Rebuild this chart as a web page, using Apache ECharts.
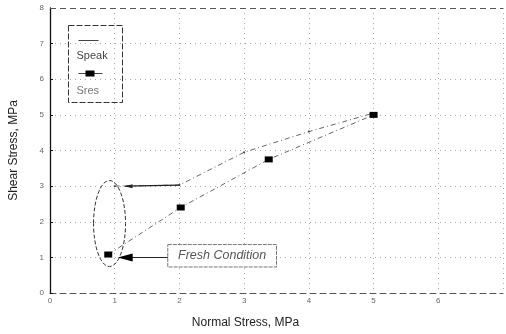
<!DOCTYPE html>
<html>
<head>
<meta charset="utf-8">
<script src="https://cdn.jsdelivr.net/npm/echarts@6/dist/echarts.min.js"></script>
<style>
  html, body { margin: 0; padding: 0; background: #fff; }
  #chart { width: 506px; height: 334px; }
</style>
</head>
<body>
<div id="chart"></div>
<script>
// Peak and residual shear stress against normal stress
const seriesNames = ['Speak', 'Sres'];
const speakNormal = [1, 2, 3, 4, 5];
const speakShear = [3.0, 3.03, 3.95, 4.53, 5.05];
const sresNormal = [0.9, 2.02, 3.38, 5.0];
const sresShear = [1.08, 2.4, 3.75, 5.0];
const xTicks = [0, 1, 2, 3, 4, 5, 6];
const yTicks = [0, 1, 2, 3, 4, 5, 6, 7, 8];
const noteText = 'Fresh Condition';

const FONT = '"Liberation Sans", Arial, sans-serif';
const chart = echarts.init(document.getElementById('chart'), null, { renderer: 'canvas' });

const pairs = (xs, ys) => xs.map((x, i) => [x, ys[i]]);

const option = {
  backgroundColor: '#ffffff',
  animation: false,
  grid: { left: 45, top: 8, right: -2, bottom: 40, containLabel: false },
  xAxis: {
    type: 'value', min: 0, max: 7, interval: 1,
    name: 'Normal Stress, MPa', nameLocation: 'middle', nameGap: 24,
    nameTextStyle: { fontFamily: FONT, fontSize: 12, color: '#222', padding: [0, 62, 0, 0] },
    axisLine: { lineStyle: { color: '#555', width: 1, type: [6, 4] } },
    axisTick: { show: false },
    axisLabel: {
      fontFamily: FONT, fontSize: 8, color: '#666', margin: 4,
      formatter: v => (xTicks.includes(v) ? String(v) : '')
    },
    splitLine: { show: true, lineStyle: { color: '#aaa', width: 1, type: [1, 4] } }
  },
  yAxis: {
    type: 'value', min: 0, max: 8, interval: 1,
    name: 'Shear Stress, MPa', nameLocation: 'middle', nameGap: 30,
    nameTextStyle: { fontFamily: FONT, fontSize: 12, color: '#222' },
    axisLine: { show: true, lineStyle: { color: '#111', width: 1.3 } },
    axisTick: { show: true, inside: true, length: 3, lineStyle: { color: '#111' } },
    axisLabel: {
      fontFamily: FONT, fontSize: 8, color: '#666', margin: 6,
      formatter: v => (yTicks.includes(v) ? String(v) : '')
    },
    splitLine: { show: true, lineStyle: { color: '#aaa', width: 1, type: [1, 4] } }
  },
  series: [
    {
      name: seriesNames[0], type: 'line', data: pairs(speakNormal, speakShear),
      symbol: 'circle', symbolSize: 2,
      itemStyle: { color: '#444' },
      lineStyle: { color: '#666', width: 1, type: [5, 3, 1, 3] },
      // dashed frame line along the top of the plot
      markLine: {
        silent: true, symbol: 'none', label: { show: false },
        lineStyle: { color: '#555', width: 1, type: [6, 4] },
        data: [{ yAxis: 8 }]
      }
    },
    {
      name: seriesNames[1], type: 'line', data: pairs(sresNormal, sresShear),
      symbol: 'rect', symbolSize: [8, 6],
      itemStyle: { color: '#000' },
      lineStyle: { color: '#666', width: 1, type: [5, 3, 1, 3] }
    }
  ],
  graphic: []
};

chart.setOption(option);

// annotations placed in data coordinates
const P = (x, y) => chart.convertToPixel({ gridIndex: 0 }, [x, y]);
const top3 = P(1, 3);
const two3 = P(2, speakShear[1]);
const low1 = P(1, sresShear[0]);
const ell = { cx: P(0.92, 0)[0], cy: P(0, 1.95)[1], rx: 16, ry: 43 };
const boxL = P(1.82, 0)[0], boxR = P(3.5, 0)[0];
const boxT = P(0, 1.36)[1], boxB = P(0, 0.73)[1];
const noteY = low1[1] + 3;

chart.setOption({
  graphic: [
    // legend box
    {
      type: 'group', left: 68, top: 25,
      children: [
        { type: 'rect', shape: { x: 0, y: 0, width: 54, height: 77 },
          style: { fill: '#fff', stroke: '#333', lineWidth: 1, lineDash: [6, 2] } },
        { type: 'line', shape: { x1: 10, y1: 15, x2: 30, y2: 15 },
          style: { stroke: '#444', lineWidth: 1 } },
        { type: 'text', style: { x: 8, y: 30, text: seriesNames[0], fontFamily: FONT, fontSize: 11, fill: '#444', textVerticalAlign: 'middle' } },
        { type: 'line', shape: { x1: 10, y1: 48, x2: 34, y2: 48 },
          style: { stroke: '#444', lineWidth: 1 } },
        { type: 'rect', shape: { x: 17, y: 45, width: 9, height: 6 }, style: { fill: '#000' } },
        { type: 'text', style: { x: 8, y: 65, text: seriesNames[1], fontFamily: FONT, fontSize: 11, fill: '#777', textVerticalAlign: 'middle' } }
      ]
    },
    // ellipse around the fresh-condition points
    {
      type: 'ellipse', shape: ell,
      style: { fill: 'none', stroke: '#333', lineWidth: 1, lineDash: [4, 2] }, z: 10
    },
    // connector from the ellipse to the Speak curve
    {
      type: 'line', shape: { x1: ell.cx + ell.rx - 1, y1: top3[1], x2: two3[0], y2: two3[1] },
      style: { stroke: '#222', lineWidth: 1.2 }, z: 10
    },
    {
      type: 'polygon', shape: { points: [[ell.cx + ell.rx - 1, top3[1]], [ell.cx + ell.rx + 7, top3[1] - 2], [ell.cx + ell.rx + 7, top3[1] + 2]] },
      style: { fill: '#222' }, z: 10
    },
    // note box with arrow
    {
      type: 'rect', shape: { x: boxL, y: boxT, width: boxR - boxL, height: boxB - boxT },
      style: { fill: '#fff', stroke: '#777', lineWidth: 1, lineDash: [4, 1] }, z: 10
    },
    {
      type: 'text', style: { x: (boxL + boxR) / 2, y: (boxT + boxB) / 2, text: noteText, fontFamily: FONT, fontSize: 12.5, fontStyle: 'italic', fill: '#555', textAlign: 'center', textVerticalAlign: 'middle' }, z: 11
    },
    {
      type: 'line', shape: { x1: boxL, y1: noteY, x2: low1[0] + 14, y2: noteY },
      style: { stroke: '#222', lineWidth: 1 }, z: 10
    },
    {
      type: 'polygon', shape: { points: [[low1[0] + 3, noteY], [low1[0] + 18, noteY - 4], [low1[0] + 18, noteY + 4]] },
      style: { fill: '#000' }, z: 10
    }
  ]
});
</script>
</body>
</html>
